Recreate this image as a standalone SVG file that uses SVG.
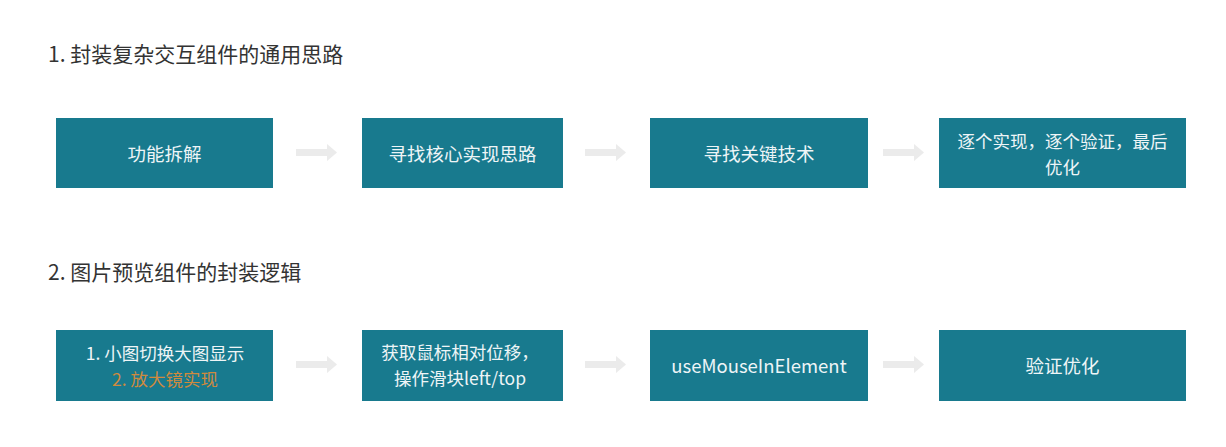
<svg xmlns="http://www.w3.org/2000/svg" width="1226" height="447" viewBox="0 0 1226 447">
<defs>
<style>
.title{font-family:"Noto Sans CJK SC","Noto Sans",sans-serif;font-size:21px;fill:#333333;}
.box{fill:#187a8e;}
.lbl{font-family:"Noto Sans CJK SC","Noto Sans",sans-serif;font-size:18.5px;fill:#eef5f7;text-anchor:middle;dominant-baseline:central;}
.two{font-size:17.5px;}
.hl{fill:#cf8a3e;}
.arr{fill:#ebebeb;}
</style>
<symbol id="arrow" viewBox="0 0 42 18" overflow="visible">
<path d="M0 5 H31 V0 L41 8.5 L31 17 V12 H0 Z"/>
</symbol>
</defs>
<rect width="1226" height="447" fill="#ffffff"/>
<text class="title" x="48" y="62">1. 封装复杂交互组件的通用思路</text>
<text class="title" x="48" y="280">2. 图片预览组件的封装逻辑</text>

<g id="connectors" class="arr">
<use href="#arrow" x="296" y="144" width="42" height="18"/>
<use href="#arrow" x="585" y="144" width="42" height="18"/>
<use href="#arrow" x="883" y="144" width="42" height="18"/>
<use href="#arrow" x="296" y="356" width="42" height="18"/>
<use href="#arrow" x="585" y="356" width="42" height="18"/>
<use href="#arrow" x="883" y="356" width="42" height="18"/>
</g>

<g id="n1">
<rect class="box" x="56" y="118" width="217" height="70"/>
<text class="lbl" x="164.5" y="153">功能拆解</text>
</g>
<g id="n2">
<rect class="box" x="362" y="118" width="201" height="70"/>
<text class="lbl" x="462.5" y="153">寻找核心实现思路</text>
</g>
<g id="n3">
<rect class="box" x="650" y="118" width="218" height="70"/>
<text class="lbl" x="759" y="153">寻找关键技术</text>
</g>
<g id="n4">
<rect class="box" x="939" y="118" width="247" height="70"/>
<text class="lbl two" x="1062.5" y="140">逐个实现，逐个验证，最后</text>
<text class="lbl two" x="1062.5" y="166">优化</text>
</g>

<g id="m1">
<rect class="box" x="56" y="330" width="217" height="71"/>
<text class="lbl two" x="165" y="352">1. 小图切换大图显示</text>
<text class="lbl two hl" x="165" y="378">2. 放大镜实现</text>
</g>
<g id="m2">
<rect class="box" x="362" y="330" width="201" height="71"/>
<text class="lbl two" x="460" y="351">获取鼠标相对位移，</text>
<text class="lbl two" x="460" y="377">操作滑块left/top</text>
</g>
<g id="m3">
<rect class="box" x="650" y="330" width="218" height="71"/>
<text class="lbl" x="759" y="365">useMouseInElement</text>
</g>
<g id="m4">
<rect class="box" x="939" y="330" width="247" height="71"/>
<text class="lbl" x="1062.5" y="365">验证优化</text>
</g>
</svg>
